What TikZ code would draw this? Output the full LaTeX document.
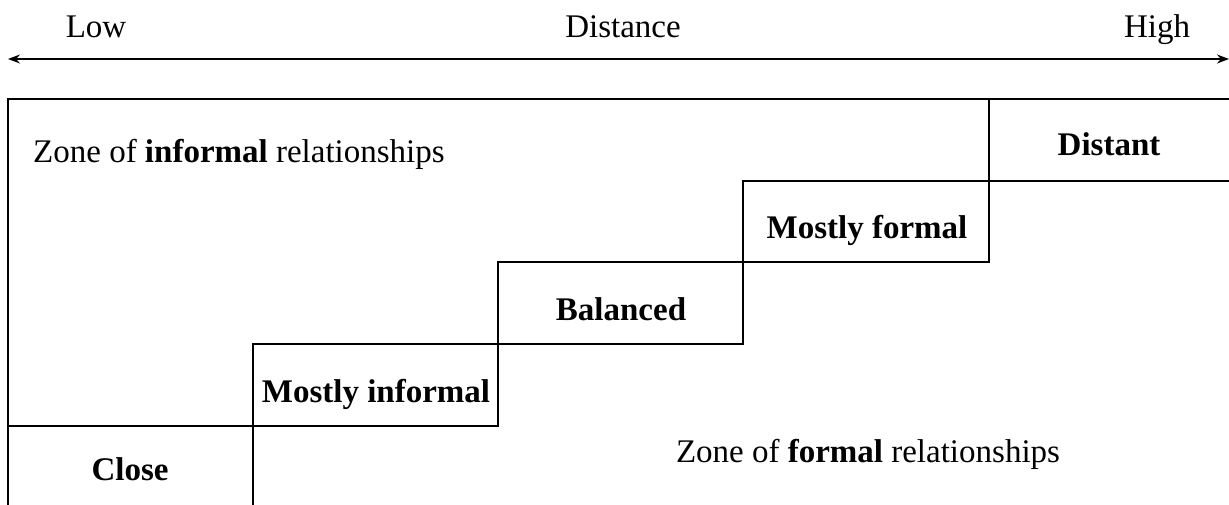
\documentclass[tikz,border=0pt]{standalone}
\usepackage{fontspec}
\setmainfont{Liberation Serif}
\usetikzlibrary{arrows.meta}
\begin{document}
\begin{tikzpicture}[x=1pt,y=-1pt,
  rule/.style={line width=2pt, line cap=rect},
  axis/.style={line width=1.6pt, {Stealth[length=12pt,width=9pt]}-{Stealth[length=12pt,width=9pt]}},
  lbl/.style={anchor=base, inner sep=0pt, font=\fontsize{33}{40}\selectfont},
  steplabel/.style={lbl, font=\fontsize{33}{40}\selectfont\bfseries}]
\useasboundingbox (0,0) rectangle (1229,504);

% distance axis
\coordinate (axL) at (8,59);
\coordinate (axR) at (1229,59);
\draw[axis] (axL) -- (axR);
\node[lbl] (low) at (96,37) {Low};
\node[lbl] (distance) at (623,37) {Distance};
\node[lbl] (high) at (1157,37) {High};

% outer frame (open at the right and bottom)
\draw[rule] (1229,99) -- (8,99) -- (8,506);

% staircase of relationship styles
\draw[rule] (8,426) -- (498,426);
\draw[rule] (253,344) -- (253,506);
\draw[rule] (253,344) -- (743,344);
\draw[rule] (498,262) -- (498,426);
\draw[rule] (498,262) -- (989,262);
\draw[rule] (743,181) -- (743,344);
\draw[rule] (743,181) -- (1229,181);
\draw[rule] (989,99) -- (989,262);

% step labels
\node[steplabel] (close) at (130,480) {Close};
\node[steplabel] (minformal) at (376,402) {Mostly informal};
\node[steplabel] (balanced) at (621,320) {Balanced};
\node[steplabel] (mformal) at (867,238) {Mostly formal};
\node[steplabel] (distant) at (1109,155) {Distant};

% zone labels
\node[lbl, anchor=base west] (informalzone) at (33,162) {Zone of \textbf{informal} relationships};
\node[lbl] (formalzone) at (868,462) {Zone of \textbf{formal} relationships};
\end{tikzpicture}
\end{document}
